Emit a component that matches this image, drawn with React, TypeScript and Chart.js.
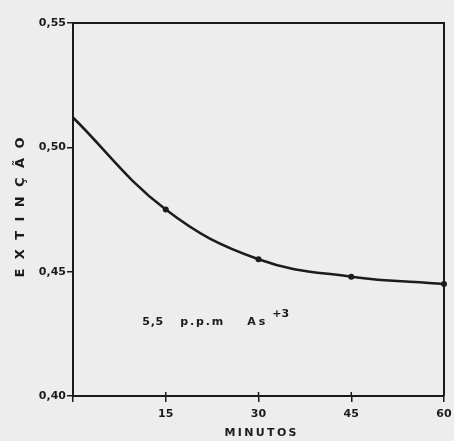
import React, { useEffect, useRef } from 'react';
import { Chart, registerables } from 'chart.js';

Chart.register(...registerables);

// ---- data ----
const minutes = [0, 15, 30, 45, 60];
const extincao = [0.512, 0.475, 0.455, 0.448, 0.445];
const pointSizes = [0, 3, 3, 3, 3];
const xTickValues = [0, 15, 30, 45, 60];
const yTickValues = [0.4, 0.45, 0.5, 0.55];
const yTitle = 'EXTINÇÃO';
const xTitle = 'MINUTOS';
const noteParts = ['5,5', 'p.p.m', 'As'];
const noteSup = '+3';
const notePosition = { x: 11.2, y: 0.4298 };

const INK = '#1b1b1b';
const PAPER = '#ededed';
const FONT = 'DejaVu Sans';

function drawSpaced(ctx: CanvasRenderingContext2D, text: string, cx: number, cy: number, span: number) {
  const chars = Array.from(text);
  const widths = chars.map((c) => ctx.measureText(c).width);
  const total = widths.reduce((a, b) => a + b, 0);
  const gap = chars.length > 1 ? (span - total) / (chars.length - 1) : 0;
  let x = cx - span / 2;
  ctx.textAlign = 'left';
  ctx.textBaseline = 'middle';
  chars.forEach((c, i) => {
    ctx.fillText(c, x, cy);
    x += widths[i] + gap;
  });
}

const decorPlugin = {
  id: 'decor',
  beforeDraw(chart: any) {
    const ctx = chart.ctx;
    ctx.save();
    ctx.fillStyle = PAPER;
    ctx.fillRect(0, 0, chart.width, chart.height);
    ctx.restore();
  },
  afterDraw(chart: any) {
    const ctx: CanvasRenderingContext2D = chart.ctx;
    const { left, right, top, bottom } = chart.chartArea;
    const xs = chart.scales.x;
    const ys = chart.scales.y;
    ctx.save();
    ctx.strokeStyle = INK;
    ctx.lineWidth = 2;
    ctx.beginPath();
    ctx.moveTo(left, top);
    ctx.lineTo(right, top);
    ctx.lineTo(right, bottom);
    ctx.stroke();
    // inner parts of x tick marks
    ctx.lineWidth = 1.5;
    xTickValues.slice(1, -1).forEach((v) => {
      const px = xs.getPixelForValue(v);
      ctx.beginPath();
      ctx.moveTo(px, bottom - 4);
      ctx.lineTo(px, bottom);
      ctx.stroke();
    });
    ctx.fillStyle = INK;
    // axis titles
    ctx.font = `bold 13px "${FONT}"`;
    ctx.save();
    ctx.translate(21, (top + bottom) / 2 - 2);
    ctx.rotate(-Math.PI / 2);
    drawSpaced(ctx, yTitle, 0, 0, 140);
    ctx.restore();
    ctx.font = `bold 11px "${FONT}"`;
    drawSpaced(ctx, xTitle, (left + right) / 2 + 2, bottom + 37, 72);
    // annotation
    ctx.font = `bold 11px "${FONT}"`;
    const x0 = xs.getPixelForValue(notePosition.x);
    const y = ys.getPixelForValue(notePosition.y);
    const offsets = [0, 38, 105];
    const spans = [21, 43, 18];
    noteParts.forEach((p, i) => {
      drawSpaced(ctx, p, x0 + offsets[i] + spans[i] / 2, y, spans[i]);
    });
    ctx.textAlign = 'left';
    ctx.fillText(noteSup, x0 + 130, y - 8);
    ctx.restore();
  },
};

export default function App() {
  const ref = useRef<HTMLCanvasElement | null>(null);
  useEffect(() => {
    if (!ref.current) return;
    const chart = new Chart(ref.current, {
      type: 'line',
      data: {
        datasets: [
          {
            data: minutes.map((m, i) => ({ x: m, y: extincao[i] })),
            borderColor: INK,
            borderWidth: 2.5,
            backgroundColor: INK,
            pointRadius: pointSizes,
            pointHoverRadius: pointSizes,
            pointBorderWidth: 0,
            tension: 0.4,
            fill: false,
            clip: false as any,
          },
        ],
      },
      options: {
        responsive: false,
        animation: false,
        events: [],
        layout: { padding: { left: 0, right: 10, top: 23, bottom: 0 } },
        plugins: { legend: { display: false }, tooltip: { enabled: false } },
        scales: {
          x: {
            type: 'linear',
            min: 0,
            max: 60,
            afterBuildTicks: (s: any) => {
              s.ticks = xTickValues.map((v) => ({ value: v }));
            },
            afterFit: (s: any) => {
              s.height = 45;
              s.paddingRight = 0;
              s.paddingLeft = 0;
            },
            ticks: {
              color: INK,
              font: { family: FONT, size: 11, weight: 'bold' },
              padding: 6,
              maxRotation: 0,
              autoSkip: false,
              callback: (v: any) => (v === 0 ? '' : String(v)),
            },
            grid: { display: true, drawOnChartArea: false, drawTicks: true, tickLength: 6, color: INK, lineWidth: 1.5 },
            border: { display: true, color: INK, width: 2 },
          },
          y: {
            type: 'linear',
            min: 0.4,
            max: 0.55,
            afterBuildTicks: (s: any) => {
              s.ticks = yTickValues.map((v) => ({ value: v }));
            },
            afterFit: (s: any) => {
              s.width = 73;
            },
            ticks: {
              color: INK,
              font: { family: FONT, size: 11, weight: 'bold' },
              padding: 1,
              autoSkip: false,
              callback: (v: any) => Number(v).toFixed(2).replace('.', ','),
            },
            grid: { display: true, drawOnChartArea: false, drawTicks: true, tickLength: 6, color: INK, lineWidth: 1.5 },
            border: { display: true, color: INK, width: 2 },
          },
        },
      },
      plugins: [decorPlugin],
    } as any);
    return () => chart.destroy();
  }, []);
  return (
    <div style={{ position: 'fixed', left: 0, top: 0, width: 454, height: 441, background: PAPER }}>
      <canvas ref={ref} width={454} height={441} />
    </div>
  );
}
